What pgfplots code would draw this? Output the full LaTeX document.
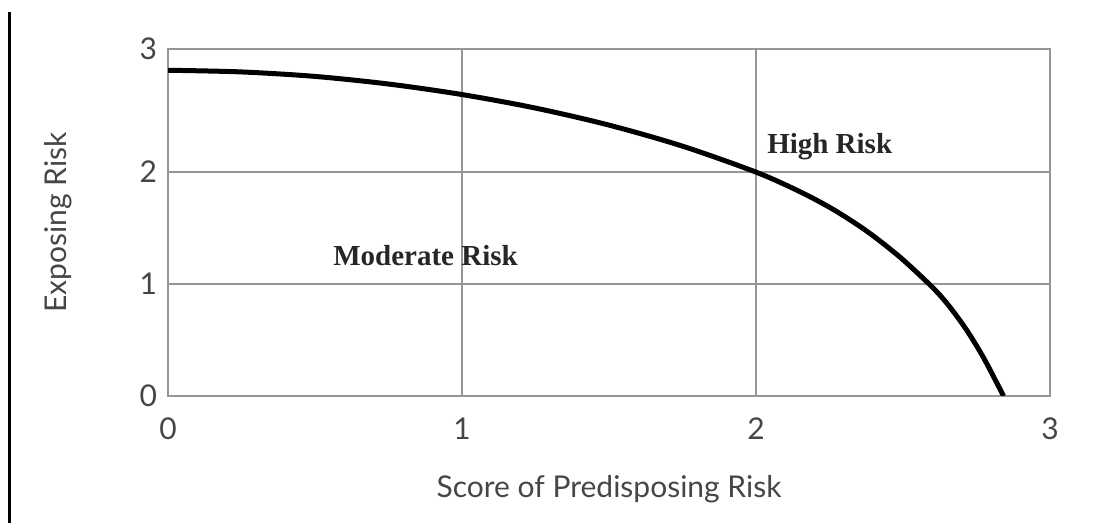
\documentclass[border=0pt]{standalone}
\usepackage{fontspec}
\setmainfont{Lato}
\newfontfamily\serifb{Liberation Serif}
\usepackage{pgfplots}
\pgfplotsset{compat=1.18}
\definecolor{gridgray}{RGB}{150,150,150}
\definecolor{txtgray}{RGB}{70,70,70}
\begin{document}
\begin{tikzpicture}
\useasboundingbox (0,0) rectangle (549.5pt,261.5pt);
\draw[line width=1.5pt, black] (4.5pt,0) -- (4.5pt,255.5pt);
\begin{axis}[
  at={(84pt,63.5pt)}, anchor=south west,
  scale only axis, width=441pt, height=173.5pt,
  xmin=0, xmax=3, ymin=0, ymax=3.1,
  xtick={0,1,2,3}, ytick={0,1,2,3.1}, yticklabels={0,1,2,3},
  grid=major, grid style={gridgray, line width=1pt},
  axis line style={gridgray, line width=1pt},
  tick style={draw=none},
  /pgf/number format/assume math mode=true,
  tick label style={font=\fontsize{15}{18}\selectfont, text=txtgray},
  xticklabel style={yshift=-7.5pt},
  yticklabel style={xshift=-2pt},
  every axis x label/.style={at={(axis description cs:0.5,0)}, anchor=center, yshift=-46.5pt},
  every axis y label/.style={at={(axis description cs:0,0.5)}, anchor=center, xshift=-55pt, rotate=90},
  label style={font=\fontsize{15}{18}\selectfont, text=txtgray},
  xlabel={Score of Predisposing Risk},
  ylabel={Exposing Risk},
]
\addplot[black, line width=2.5pt, smooth] coordinates {
 (0,2.91) (0.25,2.895) (0.5,2.855) (0.75,2.787) (1.0,2.693) (1.25,2.572)
 (1.5,2.42) (1.75,2.232) (2.0,2.0) (2.15,1.8245) (2.263,1.666) (2.376,1.474)
 (2.49,1.240) (2.603,0.9635) (2.66,0.7925) (2.717,0.587) (2.773,0.3465)
 (2.83,0.0615) (2.842,0)
};
\node[anchor=base west, inner sep=0pt, font=\serifb\bfseries\fontsize{14.5}{17}\selectfont, text=black!85] at (axis cs:2.037,2.17) {High Risk};
\node[anchor=base west, inner sep=0pt, font=\serifb\bfseries\fontsize{14.5}{17}\selectfont, text=black!85] at (axis cs:0.561,1.17) {Moderate Risk};
\end{axis}
\end{tikzpicture}
\end{document}
